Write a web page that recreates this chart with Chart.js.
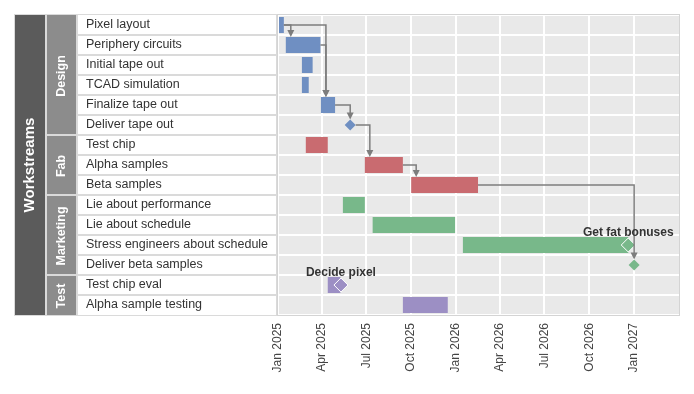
<!DOCTYPE html>
<html>
<head>
<meta charset="utf-8">
<title>Workstreams gantt</title>
<script src="https://cdn.jsdelivr.net/npm/chart.js@4/dist/chart.umd.min.js"></script>
<style>
  html, body { margin: 0; padding: 0; background: #fff; }
  #wrap { width: 694px; height: 394px; }
</style>
</head>
<body>
<div id="wrap"><canvas id="gantt"></canvas></div>
<script>
// rows of the gantt, top to bottom
const rows = [
  'Pixel layout', 'Periphery circuits', 'Initial tape out', 'TCAD simulation',
  'Finalize tape out', 'Deliver tape out', 'Test chip', 'Alpha samples', 'Beta samples',
  'Lie about performance', 'Lie about schedule', 'Stress engineers about schedule',
  'Deliver beta samples', 'Test chip eval', 'Alpha sample testing'
];
const rowGroups = [
  'Design', 'Design', 'Design', 'Design', 'Design', 'Design',
  'Fab', 'Fab', 'Fab',
  'Marketing', 'Marketing', 'Marketing', 'Marketing',
  'Test', 'Test'
];
// task bars (null = milestone only row)
const taskStart = [
  '2025-01-01', '2025-01-17', '2025-02-19', '2025-02-19', '2025-03-30', null,
  '2025-02-27', '2025-06-28', '2025-10-01',
  '2025-05-14', '2025-07-14', '2026-01-15', null,
  '2025-04-13', '2025-09-14'
];
const taskEnd = [
  '2025-01-13', '2025-03-29', '2025-03-13', '2025-03-05', '2025-04-28', null,
  '2025-04-13', '2025-09-14', '2026-02-15',
  '2025-06-28', '2025-12-30', '2026-12-20', null,
  '2025-05-09', '2025-12-15'
];
// milestones
const msRows = ['Deliver tape out', 'Test chip eval', 'Stress engineers about schedule', 'Deliver beta samples'];
const msDates = ['2025-05-29', '2025-05-10', '2026-12-20', '2027-01-01'];
const msLabels = ['', 'Decide pixel', 'Get fat bonuses', ''];
// dependencies
const depFrom = ['Pixel layout', 'Pixel layout', 'Periphery circuits', 'Finalize tape out', 'Deliver tape out', 'Alpha samples', 'Beta samples'];
const depTo = ['Periphery circuits', 'Finalize tape out', 'Finalize tape out', 'Deliver tape out', 'Alpha samples', 'Beta samples', 'Deliver beta samples'];
// x axis
const tickDates = ['2025-01-01', '2025-04-01', '2025-07-01', '2025-10-01', '2026-01-01', '2026-04-01', '2026-07-01', '2026-10-01', '2027-01-01'];
const tickLabels = ['Jan 2025', 'Apr 2025', 'Jul 2025', 'Oct 2025', 'Jan 2026', 'Apr 2026', 'Jul 2026', 'Oct 2026', 'Jan 2027'];
const rangeStart = '2025-01-01';
const rangeEnd = '2027-04-03';

const groupColors = { Design: '#6f8fc2', Fab: '#c96b70', Marketing: '#78b88a', Test: '#9c8fc4' };
const FONT = "'Liberation Sans', Arial, sans-serif";

// days since 2025-01-01
function day(s) {
  const [y, m, d] = s.split('-').map(Number);
  return (Date.UTC(y, m - 1, d) - Date.UTC(2025, 0, 1)) / 864e5;
}
const groupOf = name => rowGroups[rows.indexOf(name)];
const msRadius = i => msLabels[i] ? 7 : 5.5;

const tablePlugin = {
  id: 'table',
  beforeDraw(chart) {
    const { ctx, chartArea: a, scales: { y } } = chart;
    ctx.save();
    ctx.fillStyle = '#fff';
    ctx.fillRect(0, 0, chart.width, chart.height);
    ctx.fillStyle = '#e9e9e9';
    ctx.fillRect(a.left, a.top, a.right - a.left, a.bottom - a.top);

    // left table
    const top = a.top, bottom = a.bottom, rowH = (bottom - top) / rows.length;
    ctx.fillStyle = '#dadada';
    ctx.fillRect(14, top - 1, a.left - 14, bottom - top + 2);
    ctx.fillStyle = '#5b5b5b';
    ctx.fillRect(15, top, 30, bottom - top);

    // groups
    let i = 0;
    while (i < rows.length) {
      let j = i;
      while (j < rows.length && rowGroups[j] === rowGroups[i]) j++;
      const gy0 = top + i * rowH, gy1 = top + j * rowH;
      ctx.fillStyle = '#8c8c8c';
      ctx.fillRect(47, gy0 + (i ? 1 : 0), 29, gy1 - gy0 - (i ? 1 : 0) - (j < rows.length ? 1 : 0));
      ctx.save();
      ctx.translate(61.5, (gy0 + gy1) / 2 + 1);
      ctx.rotate(-Math.PI / 2);
      ctx.fillStyle = '#fff';
      ctx.font = 'bold 12.5px ' + FONT;
      ctx.textAlign = 'center';
      ctx.textBaseline = 'middle';
      ctx.fillText(rowGroups[i], 0, 0);
      ctx.restore();
      i = j;
    }

    rows.forEach((r, k) => {
      const y0 = top + k * rowH;
      ctx.fillStyle = '#fff';
      ctx.fillRect(78, y0 + (k ? 1 : 0), a.left - 2 - 78, rowH - (k ? 1 : 0) - (k < rows.length - 1 ? 1 : 0));
      ctx.fillStyle = '#333';
      ctx.font = '12.5px ' + FONT;
      ctx.textAlign = 'left';
      ctx.textBaseline = 'middle';
      ctx.fillText(r, 86, y.getPixelForValue(k));
    });

    ctx.save();
    ctx.translate(30, (top + bottom) / 2);
    ctx.rotate(-Math.PI / 2);
    ctx.fillStyle = '#fff';
    ctx.font = 'bold 15px ' + FONT;
    ctx.textAlign = 'center';
    ctx.textBaseline = 'middle';
    ctx.fillText('Workstreams', 0, 0);
    ctx.restore();
    ctx.restore();
  },
  afterDatasetsDraw(chart) {
    const { ctx, chartArea: a, scales: { x, y } } = chart;
    ctx.save();

    // dependency arrows
    const endOf = name => {
      const k = rows.indexOf(name), m = msRows.indexOf(name);
      if (taskEnd[k] && !(m >= 0 && day(msDates[m]) > day(taskEnd[k]))) return x.getPixelForValue(day(taskEnd[k]));
      return x.getPixelForValue(day(msDates[m])) + msRadius(m);
    };
    const targetOf = name => {
      const k = rows.indexOf(name), m = msRows.indexOf(name);
      const cy = y.getPixelForValue(k);
      if (taskStart[k]) return [x.getPixelForValue(day(taskStart[k])) + 5, cy - 8];
      return [x.getPixelForValue(day(msDates[m])), cy - msRadius(m)];
    };
    ctx.strokeStyle = '#7d7d7d';
    ctx.fillStyle = '#7d7d7d';
    ctx.lineWidth = 1.5;
    depFrom.forEach((f, i) => {
      const sx = endOf(f), sy = y.getPixelForValue(rows.indexOf(f));
      const [tx, ty] = targetOf(depTo[i]);
      ctx.beginPath();
      ctx.moveTo(sx, sy);
      ctx.lineTo(tx, sy);
      ctx.lineTo(tx, ty - 5);
      ctx.stroke();
      ctx.beginPath();
      ctx.moveTo(tx - 3.5, ty - 7);
      ctx.lineTo(tx + 3.5, ty - 7);
      ctx.lineTo(tx, ty);
      ctx.closePath();
      ctx.fill();
    });

    // milestone labels
    ctx.fillStyle = '#333';
    ctx.font = 'bold 12px ' + FONT;
    ctx.textAlign = 'center';
    ctx.textBaseline = 'middle';
    msLabels.forEach((l, i) => {
      if (!l) return;
      ctx.fillText(l, x.getPixelForValue(day(msDates[i])), y.getPixelForValue(rows.indexOf(msRows[i])) - 12);
    });

    // plot border
    ctx.strokeStyle = '#d4d4d4';
    ctx.lineWidth = 1;
    ctx.strokeRect(a.left - 0.5, a.top - 0.5, a.right - a.left + 1, a.bottom - a.top + 1);
    ctx.restore();
  }
};

new Chart(document.getElementById('gantt'), {
  data: {
    labels: rows,
    datasets: [
      {
        type: 'bar',
        indexAxis: 'y',
        order: 2,
        data: rows.map((r, i) => taskStart[i] ? [day(taskStart[i]), day(taskEnd[i])] : null),
        backgroundColor: rowGroups.map(g => groupColors[g]),
        borderWidth: 0,
        categoryPercentage: 1,
        barPercentage: 0.8,
        xAxisID: 'x',
        yAxisID: 'y'
      },
      {
        type: 'scatter',
        order: 1,
        data: msRows.map((r, i) => ({ x: day(msDates[i]), y: r })),
        pointStyle: 'rectRot',
        pointRadius: msRows.map((r, i) => msRadius(i)),
        pointBackgroundColor: msRows.map(r => groupColors[groupOf(r)]),
        pointBorderColor: msRows.map((r, i) => msLabels[i] ? '#fff' : groupColors[groupOf(r)]),
        pointBorderWidth: msRows.map((r, i) => msLabels[i] ? 1 : 0),
        xAxisID: 'x',
        yAxisID: 'y'
      }
    ]
  },
  options: {
    responsive: true,
    maintainAspectRatio: false,
    devicePixelRatio: 1,
    animation: false,
    events: [],
    layout: { padding: { left: 278, top: 15, right: 15, bottom: 0 } },
    plugins: { legend: { display: false }, tooltip: { enabled: false } },
    scales: {
      x: {
        type: 'linear',
        position: 'bottom',
        min: day(rangeStart),
        max: day(rangeEnd),
        afterBuildTicks: scale => { scale.ticks = tickDates.map(d => ({ value: day(d) })); },
        afterFit: scale => { scale.height = 79; },
        border: { display: false },
        grid: { color: '#fff', lineWidth: 2, drawTicks: false },
        ticks: {
          minRotation: 90,
          maxRotation: 90,
          autoSkip: false,
          padding: 8,
          color: '#444',
          font: { family: FONT, size: 12 },
          callback: (v, i) => tickLabels[i]
        }
      },
      y: {
        type: 'category',
        position: 'left',
        offset: true,
        afterFit: scale => { scale.width = 0; },
        border: { display: false },
        grid: { color: '#fff', lineWidth: 2, drawTicks: false, offset: true },
        ticks: { display: false }
      }
    }
  },
  plugins: [tablePlugin]
});
</script>
</body>
</html>
